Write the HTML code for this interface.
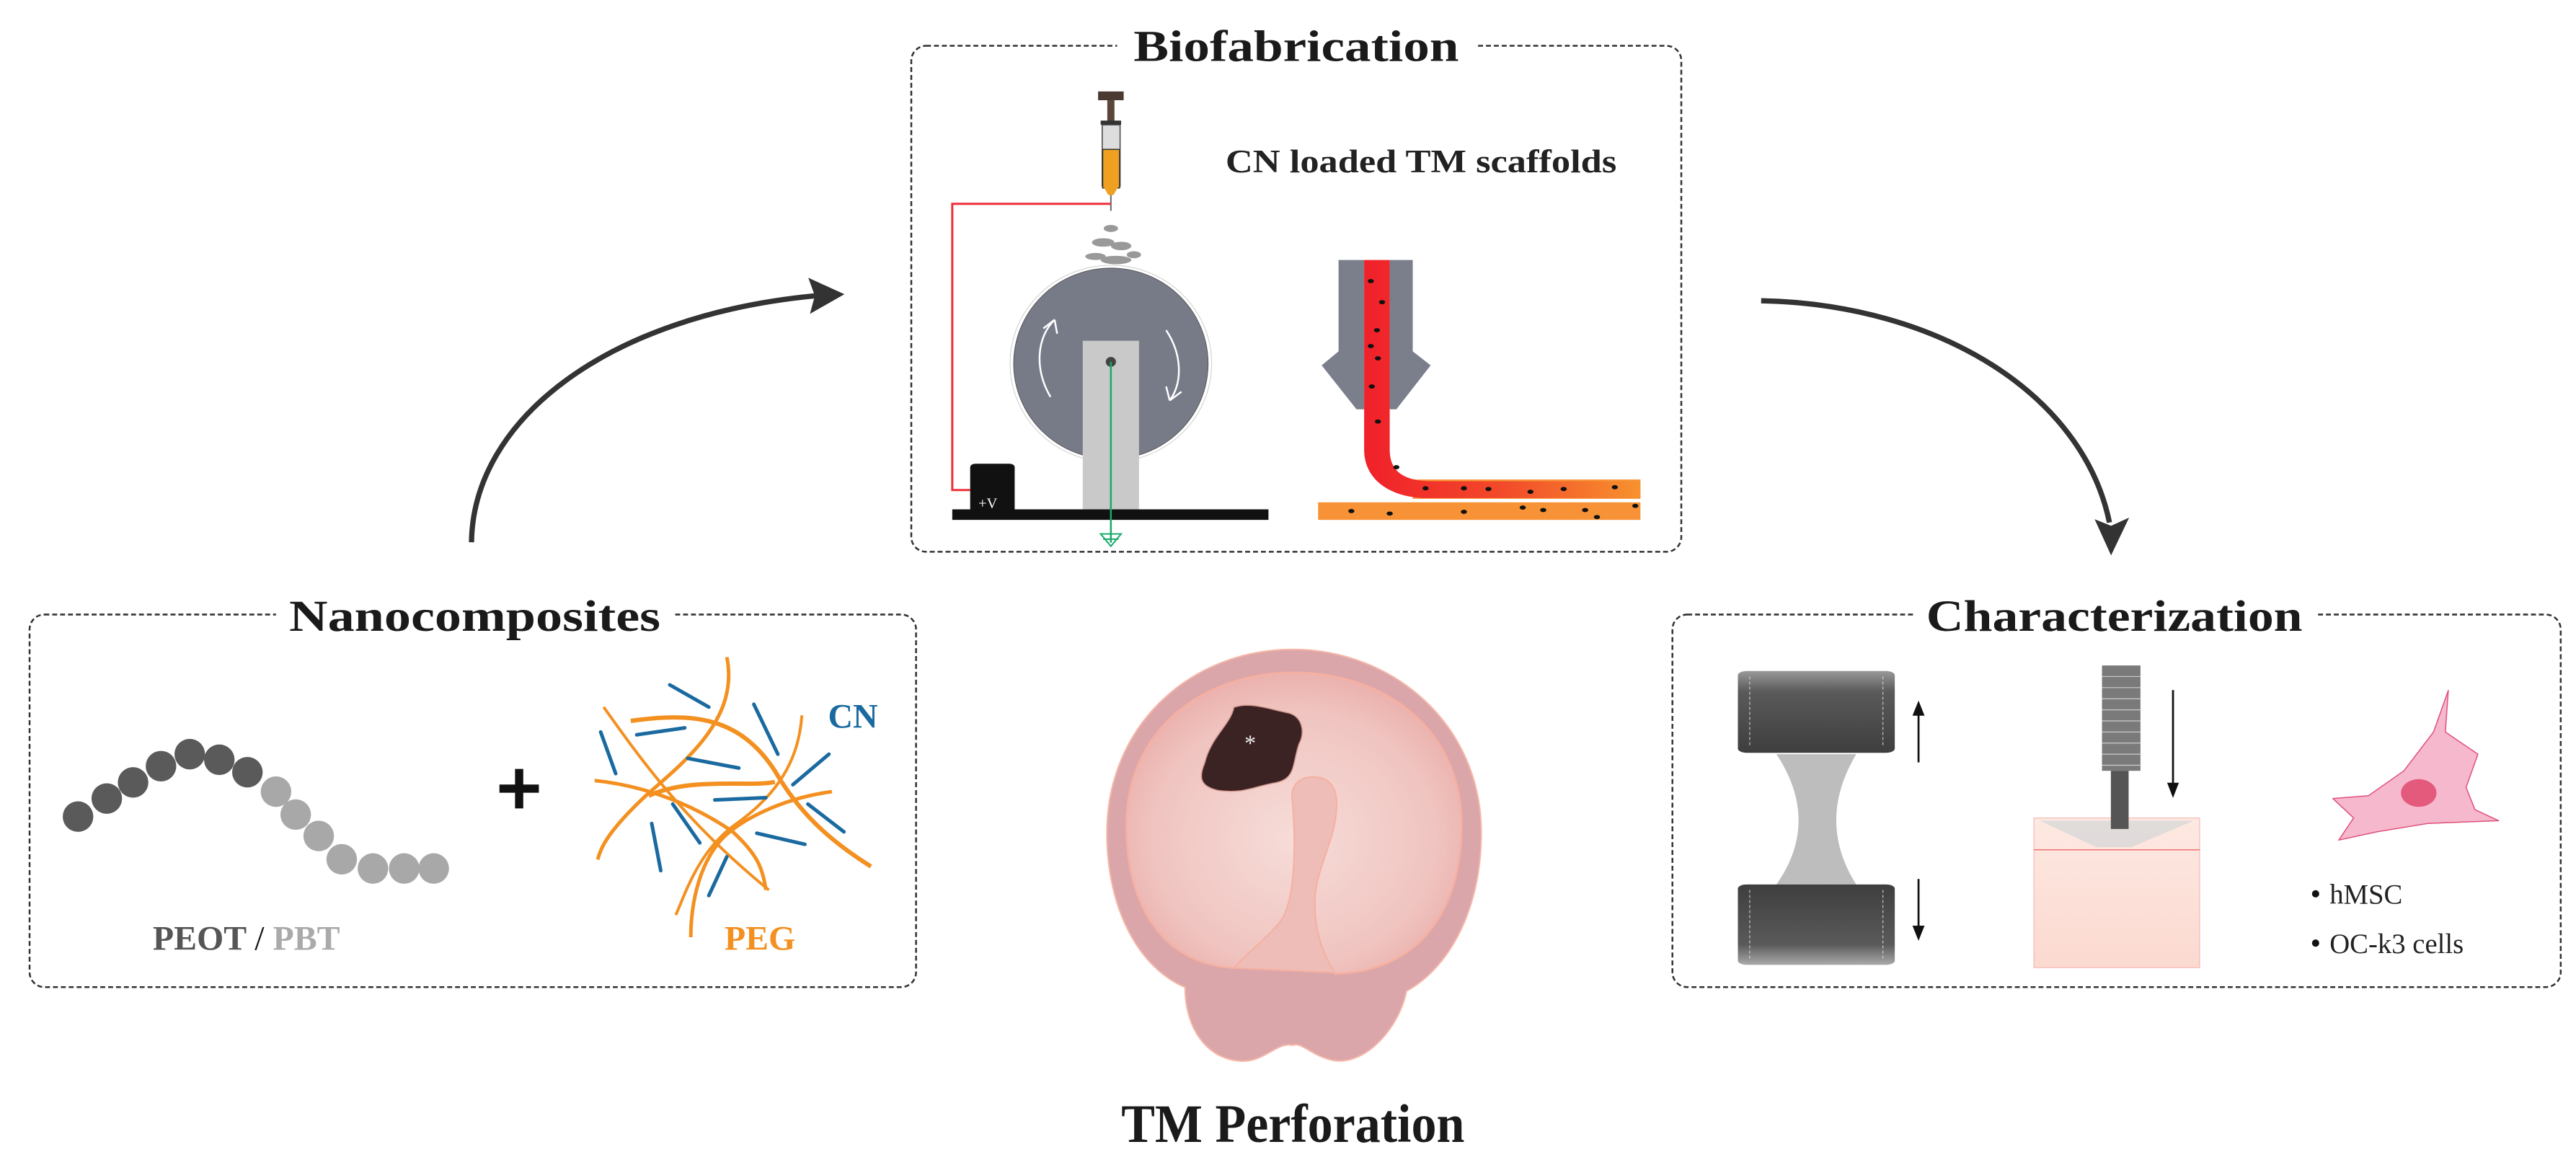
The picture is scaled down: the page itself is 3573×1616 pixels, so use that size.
<!DOCTYPE html>
<html><head><meta charset="utf-8"><style>
html,body{margin:0;padding:0;background:#fff;}
svg{display:block;}
text{font-family:"Liberation Serif",serif;}
</style></head><body>
<svg width="3573" height="1616" viewBox="0 0 1568 709" xmlns="http://www.w3.org/2000/svg">
<defs>
<linearGradient id="grip" x1="0" y1="0" x2="0" y2="1"><stop offset="0" stop-color="#999"/><stop offset="0.25" stop-color="#5a5a5a"/><stop offset="1" stop-color="#3e3e3e"/></linearGradient>
<linearGradient id="grip2" x1="0" y1="0" x2="0" y2="1"><stop offset="0" stop-color="#3e3e3e"/><stop offset="0.75" stop-color="#5a5a5a"/><stop offset="1" stop-color="#aaa"/></linearGradient>
<linearGradient id="fil" x1="0" y1="0" x2="1" y2="0"><stop offset="0" stop-color="#f0202a"/><stop offset="0.5" stop-color="#f24a2a"/><stop offset="1" stop-color="#f7922e"/></linearGradient>
<radialGradient id="mem" cx="0.5" cy="0.55" r="0.6"><stop offset="0" stop-color="#f6dcd8"/><stop offset="0.7" stop-color="#f0c4c0"/><stop offset="1" stop-color="#e9aaa6"/></radialGradient>
<linearGradient id="cyl" x1="0" y1="0" x2="0" y2="1"><stop offset="0" stop-color="#fde9e2"/><stop offset="1" stop-color="#fbd9d0"/></linearGradient>
</defs>

<!-- Boxes -->
<g fill="none" stroke="#333" stroke-width="1.1" stroke-dasharray="3 1.8">
<rect x="554.7" y="27.8" width="468.7" height="308" rx="9"/>
<rect x="18" y="374" width="539.6" height="226.8" rx="9"/>
<rect x="1018" y="374" width="540.7" height="226.8" rx="9"/>
</g>
<g fill="#fff">
<rect x="680" y="15" width="218" height="28"/>
<rect x="168" y="361" width="242" height="28"/>
<rect x="1165" y="361" width="245" height="28"/>
</g>
<g font-size="27" font-weight="bold" fill="#1a1a1a" text-anchor="middle">
<text x="789" y="37" textLength="198" lengthAdjust="spacingAndGlyphs">Biofabrication</text>
<text x="289" y="384" textLength="226" lengthAdjust="spacingAndGlyphs">Nanocomposites</text>
<text x="1287" y="384" textLength="229" lengthAdjust="spacingAndGlyphs">Characterization</text>
</g>

<!-- Curved arrows -->
<path d="M287,330 C288,255 370,192 496,180" fill="none" stroke="#333" stroke-width="3.2"/>
<path d="M514,179 L492,169 L496,180 L493,191 Z" fill="#333"/>
<path d="M1072,183 C1180,185 1268,240 1284,318" fill="none" stroke="#333" stroke-width="3.2"/>
<path d="M1285,338 L1275,316 L1285,320 L1296,315 Z" fill="#333"/>

<!-- Biofabrication content -->
<g transform="translate(548.5,0) scale(0.31143,0.21377)">
 <rect x="385" y="260" width="50" height="25" fill="#4a3a32"/>
 <rect x="403" y="285" width="14" height="65" fill="#5a463a"/>
 <rect x="390" y="343" width="40" height="12" fill="#333"/>
 <rect x="393" y="355" width="35" height="175" fill="#ddd" stroke="#444" stroke-width="1.5" vector-effect="non-scaling-stroke"/>
 <rect x="394" y="425" width="33" height="110" fill="#f0a020" stroke="#333" stroke-width="1.5" vector-effect="non-scaling-stroke"/>
 <path d="M395,530 L425,530 L415,555 L405,555 Z" fill="#f0a020"/>
 <line x1="410" y1="555" x2="410" y2="600" stroke="#666" stroke-width="2" vector-effect="non-scaling-stroke"/>
 <path d="M410,580 L100,580 L100,1395 L135,1395" fill="none" stroke="#f0303a" stroke-width="3" vector-effect="non-scaling-stroke"/>
 <g fill="#999">
  <ellipse cx="410" cy="650" rx="14" ry="10"/><ellipse cx="395" cy="690" rx="22" ry="12"/><ellipse cx="430" cy="700" rx="20" ry="12"/><ellipse cx="380" cy="730" rx="20" ry="10"/><ellipse cx="420" cy="740" rx="30" ry="12"/><ellipse cx="455" cy="725" rx="14" ry="10"/>
 </g>
 <ellipse cx="410" cy="1035" rx="197" ry="280" fill="#fff" stroke="#ccc" stroke-width="1" vector-effect="non-scaling-stroke"/>
 <ellipse cx="410" cy="1035" rx="190" ry="272" fill="#777b88" stroke="#555" stroke-width="1" vector-effect="non-scaling-stroke"/>
 <path d="M292,1130 C260,1050 265,960 300,910" fill="none" stroke="#fff" stroke-width="2.5" vector-effect="non-scaling-stroke"/>
 <path d="M300,910 L278,935 M300,910 L305,950" stroke="#fff" stroke-width="2.5" vector-effect="non-scaling-stroke"/>
 <path d="M518,940 C550,1010 550,1090 525,1140" fill="none" stroke="#fff" stroke-width="2.5" vector-effect="non-scaling-stroke"/>
 <path d="M525,1140 L548,1115 M525,1140 L518,1100" stroke="#fff" stroke-width="2.5" vector-effect="non-scaling-stroke"/>
 <rect x="355" y="970" width="110" height="485" fill="#c9c9c9"/>
 <ellipse cx="410" cy="1030" rx="10" ry="14" fill="#444"/>
 <rect x="135" y="1320" width="87" height="145" rx="10" fill="#111"/>
 <rect x="100" y="1450" width="618" height="30" fill="#111"/>
 <line x1="410" y1="1030" x2="410" y2="1545" stroke="#1aaa6a" stroke-width="2.5" vector-effect="non-scaling-stroke"/>
 <path d="M390,1520 L430,1520 L410,1555 Z M395,1535 L425,1535" fill="none" stroke="#1aaa6a" stroke-width="2" vector-effect="non-scaling-stroke"/>
 <!-- nozzle -->
 <path d="M855,740 L905,740 L905,1165 L890,1165 L822,1040 L855,1000 Z" fill="#7b7f8c"/>
 <path d="M955,740 L1000,740 L1000,1000 L1035,1040 L968,1165 L955,1165 Z" fill="#7b7f8c"/>
 <rect x="1000" y="1365" width="445" height="55" fill="#f79236"/>
 <rect x="815" y="1430" width="630" height="50" fill="#f79236"/>
 <path d="M905,740 L955,740 L955,1280 C955,1350 990,1370 1040,1370 L1445,1370 L1445,1418 L1030,1418 C960,1418 905,1370 905,1280 Z" fill="url(#fil)"/>
 <g fill="#111">
  <circle cx="918" cy="800" r="6"/><circle cx="940" cy="860" r="6"/><circle cx="930" cy="940" r="6"/><circle cx="918" cy="985" r="6"/><circle cx="932" cy="1020" r="6"/><circle cx="920" cy="1100" r="6"/><circle cx="932" cy="1200" r="6"/><circle cx="968" cy="1330" r="6"/><circle cx="1025" cy="1390" r="6"/><circle cx="1100" cy="1390" r="6"/><circle cx="1148" cy="1392" r="6"/><circle cx="1230" cy="1400" r="6"/><circle cx="1295" cy="1392" r="6"/><circle cx="1395" cy="1387" r="6"/><circle cx="880" cy="1455" r="6"/><circle cx="955" cy="1462" r="6"/><circle cx="1100" cy="1457" r="6"/><circle cx="1215" cy="1445" r="6"/><circle cx="1255" cy="1452" r="6"/><circle cx="1337" cy="1452" r="6"/><circle cx="1360" cy="1472" r="6"/><circle cx="1435" cy="1440" r="6"/>
 </g>
</g>
<text x="595.5" y="309" font-family="Liberation Sans" font-size="9" fill="#fff">+V</text>
<text x="746" y="104.7" font-size="20" font-weight="bold" fill="#222" textLength="238" lengthAdjust="spacingAndGlyphs">CN loaded TM scaffolds</text>

<!-- Nanocomposites content -->
<g fill="#5a5a5a">
<circle cx="47.5" cy="497" r="9.3"/><circle cx="65" cy="486" r="9.3"/><circle cx="81" cy="476.2" r="9.3"/><circle cx="98" cy="466.3" r="9.3"/><circle cx="115.5" cy="459" r="9.3"/><circle cx="133.5" cy="462.4" r="9.3"/><circle cx="150.6" cy="470" r="9.3"/>
</g>
<g fill="#a8a8a8">
<circle cx="168" cy="481.8" r="9.3"/><circle cx="180" cy="495.8" r="9.3"/><circle cx="194" cy="508.8" r="9.3"/><circle cx="208" cy="523" r="9.3"/><circle cx="227" cy="528.6" r="9.3"/><circle cx="246" cy="528.6" r="9.3"/><circle cx="264" cy="528.6" r="9.3"/>
</g>
<text x="93" y="578" font-size="21" font-weight="bold" fill="#555">PEOT <tspan fill="#111" font-weight="normal">/</tspan> <tspan fill="#aaa">PBT</tspan></text>
<path d="M316,468 L316,492 M304,480 L328,480" stroke="#111" stroke-width="5"/>
<g transform="translate(0,351) scale(0.36563,0.16877)" fill="none">
 <g stroke="#f39020" vector-effect="non-scaling-stroke">
 <path d="M1005,470 C1080,700 1150,900 1280,1130" stroke-width="4" vector-effect="non-scaling-stroke"/>
 <path d="M1050,520 C1150,490 1230,500 1290,700 C1330,850 1380,950 1450,1045" stroke-width="6" vector-effect="non-scaling-stroke"/>
 <path d="M1210,290 C1230,500 1150,650 1080,780 C1010,920 1000,980 995,1020" stroke-width="5" vector-effect="non-scaling-stroke"/>
 <path d="M990,735 C1100,760 1180,860 1220,920 C1260,1000 1270,1050 1275,1130" stroke-width="5" vector-effect="non-scaling-stroke"/>
 <path d="M1080,790 C1150,720 1250,760 1290,740" stroke-width="6" vector-effect="non-scaling-stroke"/>
 <path d="M1385,775 C1300,800 1230,880 1200,950 C1160,1050 1150,1200 1150,1300" stroke-width="5" vector-effect="non-scaling-stroke"/>
 <path d="M1335,500 C1330,650 1300,780 1220,900 C1160,1000 1140,1150 1125,1220" stroke-width="4" vector-effect="non-scaling-stroke"/>
 </g>
 <g stroke="#1a6aa0" stroke-width="5" stroke-linecap="round">
 <path d="M1115,390 L1180,470" vector-effect="non-scaling-stroke"/><path d="M1060,570 L1140,545" vector-effect="non-scaling-stroke"/><path d="M1000,560 L1025,710" vector-effect="non-scaling-stroke"/><path d="M1145,655 L1230,690" vector-effect="non-scaling-stroke"/><path d="M1255,460 L1295,640" vector-effect="non-scaling-stroke"/><path d="M1380,640 L1320,750" vector-effect="non-scaling-stroke"/><path d="M1190,805 L1275,797" vector-effect="non-scaling-stroke"/><path d="M1120,820 L1165,960" vector-effect="non-scaling-stroke"/><path d="M1085,890 L1100,1060" vector-effect="non-scaling-stroke"/><path d="M1345,820 L1405,920" vector-effect="non-scaling-stroke"/><path d="M1260,925 L1340,965" vector-effect="non-scaling-stroke"/><path d="M1210,1010 L1180,1150" vector-effect="non-scaling-stroke"/>
 </g>
</g>
<text x="504" y="443" font-size="21" font-weight="bold" fill="#1a6aa0">CN</text>
<text x="441" y="578" font-size="21" font-weight="bold" fill="#f39020">PEG</text>

<!-- Characterization content -->
<g transform="translate(1009.2,351) scale(0.36036,0.16875)">
 <path d="M200,640 L335,640 C290,800 290,960 335,1110 L200,1110 C250,960 250,800 200,640 Z" fill="#bdbdbd"/>
 <rect x="135" y="340" width="265" height="295" rx="15" fill="url(#grip)"/>
 <rect x="135" y="1110" width="265" height="290" rx="15" fill="url(#grip2)"/>
 <g stroke="#ddd" stroke-width="1" stroke-dasharray="4 3" vector-effect="non-scaling-stroke">
  <line x1="155" y1="360" x2="155" y2="615" vector-effect="non-scaling-stroke"/><line x1="380" y1="360" x2="380" y2="615" vector-effect="non-scaling-stroke"/>
  <line x1="155" y1="1130" x2="155" y2="1380" vector-effect="non-scaling-stroke"/><line x1="380" y1="1130" x2="380" y2="1380" vector-effect="non-scaling-stroke"/>
 </g>
 <rect x="635" y="870" width="280" height="540" fill="url(#cyl)" stroke="#f3b0a8" stroke-width="1" vector-effect="non-scaling-stroke"/>
 <path d="M645,880 L905,880 L800,975 L740,975 Z" fill="#d8d8d8" opacity="0.8"/>
 <line x1="635" y1="985" x2="915" y2="985" stroke="#f07070" stroke-width="1.5" vector-effect="non-scaling-stroke"/>
 <rect x="750" y="320" width="65" height="380" fill="#7a7a7a"/>
 <g stroke="#ccc" stroke-width="1.2">
  <line x1="750" y1="360" x2="815" y2="360" vector-effect="non-scaling-stroke"/><line x1="750" y1="400" x2="815" y2="400" vector-effect="non-scaling-stroke"/><line x1="750" y1="440" x2="815" y2="440" vector-effect="non-scaling-stroke"/><line x1="750" y1="480" x2="815" y2="480" vector-effect="non-scaling-stroke"/><line x1="750" y1="520" x2="815" y2="520" vector-effect="non-scaling-stroke"/><line x1="750" y1="560" x2="815" y2="560" vector-effect="non-scaling-stroke"/><line x1="750" y1="600" x2="815" y2="600" vector-effect="non-scaling-stroke"/><line x1="750" y1="640" x2="815" y2="640" vector-effect="non-scaling-stroke"/><line x1="750" y1="680" x2="815" y2="680" vector-effect="non-scaling-stroke"/>
 </g>
 <rect x="765" y="700" width="30" height="210" fill="#555"/>
 <polygon points="1335,410 1330,560 1385,640 1365,760 1380,840 1420,880 1300,890 1215,920 1150,950 1175,870 1140,800 1200,790 1260,700 1310,560" fill="#f5b8cc" stroke="#e0507a" stroke-width="1.5" vector-effect="non-scaling-stroke" stroke-linejoin="round"/>
 <ellipse cx="1285" cy="780" rx="30" ry="50" fill="#e45a7d"/>
</g>
<g stroke="#111" stroke-width="1.2" fill="#111">
<line x1="1167.8" y1="433" x2="1167.8" y2="464"/><path d="M1167.8,428 L1165,435 L1170.6,435 Z"/>
<line x1="1167.8" y1="535" x2="1167.8" y2="566"/><path d="M1167.8,571 L1165,564 L1170.6,564 Z"/>
<line x1="1322.7" y1="420" x2="1322.7" y2="479"/><path d="M1322.7,484 L1320,477 L1325.4,477 Z"/>
</g>
<g font-size="17" fill="#222">
<circle cx="1409.5" cy="544" r="2.2" fill="#111"/>
<text x="1418" y="550">hMSC</text>
<circle cx="1409.5" cy="574" r="2.2" fill="#111"/>
<text x="1418" y="580">OC-k3 cells</text>
</g>

<!-- TM Perforation -->
<g transform="translate(614.3,342.3) scale(0.19818,0.23513)">
 <path d="M300,700 C300,420 560,225 870,225 C1180,225 1450,420 1450,700 C1450,900 1350,1050 1220,1110 C1200,1200 1100,1300 1000,1290 C930,1280 900,1240 870,1250 C820,1240 780,1300 700,1290 C600,1280 540,1200 540,1100 C400,1050 300,900 300,700 Z" fill="#dba6aa" stroke="#f6b8a8" stroke-width="2" vector-effect="non-scaling-stroke"/>
 <path d="M690,1050 C480,1040 360,900 360,680 C360,430 600,285 875,285 C1150,285 1390,430 1390,680 C1390,900 1260,1060 1000,1065 C960,1030 940,1000 920,1000 L840,1000 C780,1000 740,1030 690,1050 Z" fill="url(#mem)" stroke="#f7b0a0" stroke-width="2.5" vector-effect="non-scaling-stroke"/>
 <path d="M870,620 C860,570 900,555 935,555 C990,555 1010,590 1005,640 C1000,720 950,780 940,860 C935,920 945,990 1000,1062 L690,1050 C740,1000 800,970 840,920 C880,860 880,720 870,620 Z" fill="#eebdb7" stroke="#f5b0a0" stroke-width="2" vector-effect="non-scaling-stroke"/>
 <path d="M600,520 C620,450 680,420 690,375 C740,360 800,380 860,390 C900,400 910,440 890,470 C870,520 880,560 820,570 C750,580 720,600 640,590 C590,580 580,560 600,520 Z" fill="#3b2324" stroke="#d49a90" stroke-width="1.5" vector-effect="non-scaling-stroke"/>
</g>
<text x="761" y="457" font-size="14" fill="#eee" text-anchor="middle" font-family="Liberation Sans">*</text>
<text x="787" y="695" font-size="33" font-weight="bold" fill="#1a1a1a" text-anchor="middle" textLength="209" lengthAdjust="spacingAndGlyphs">TM Perforation</text>
</svg>
</body></html>
